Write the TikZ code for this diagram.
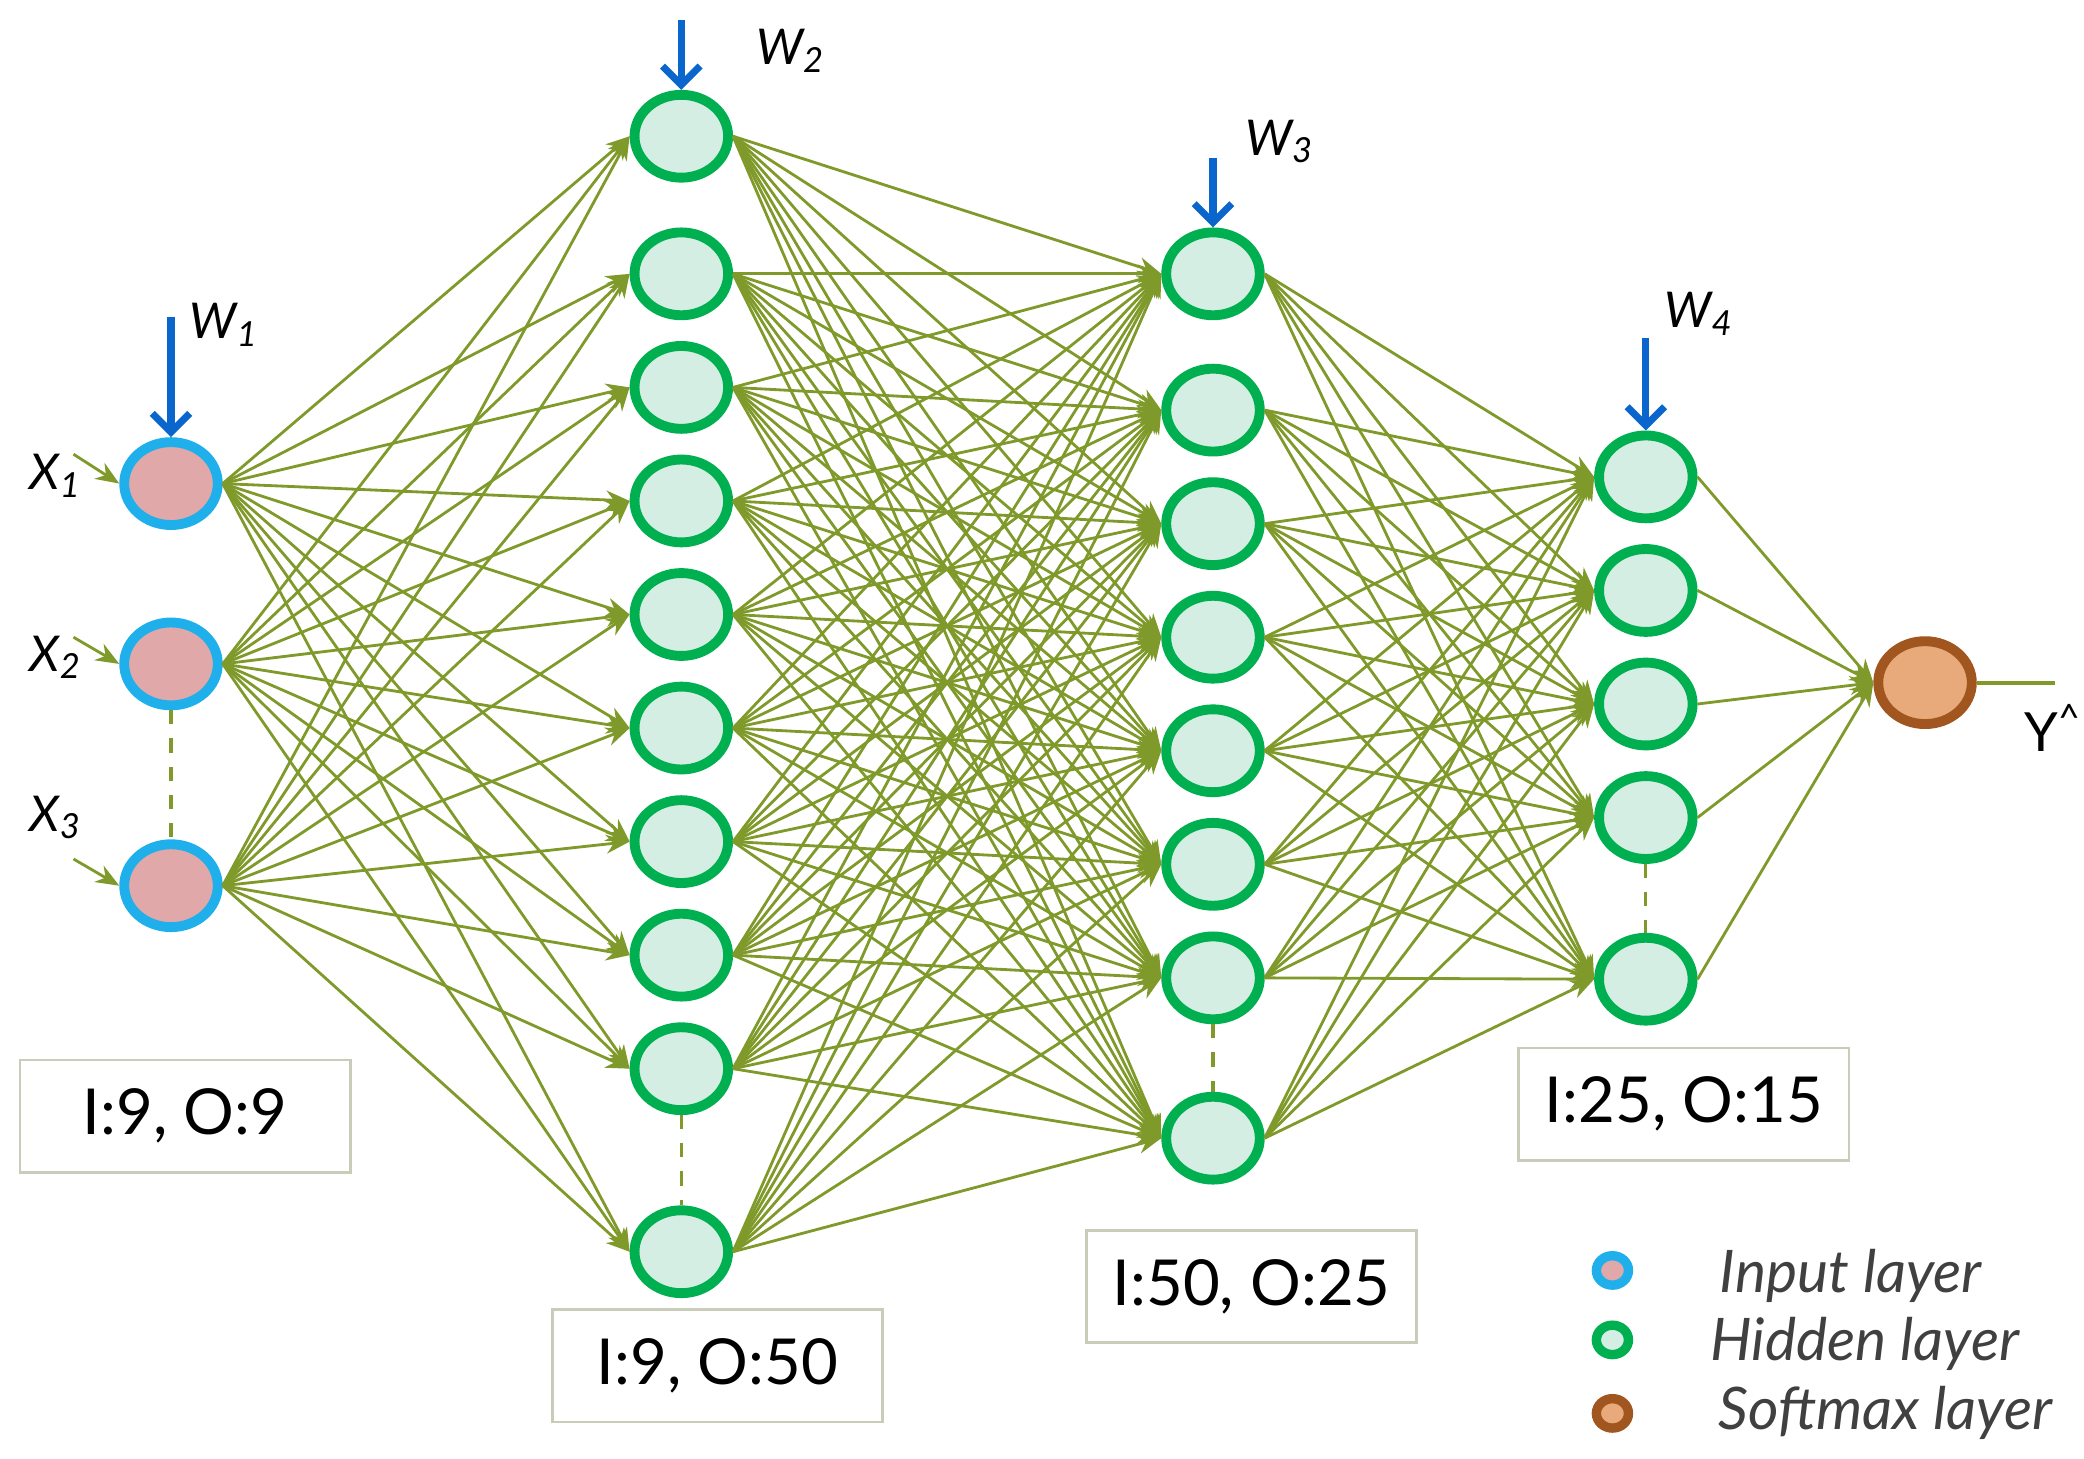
\documentclass[tikz,border=0pt]{standalone}
\usepackage{fontspec}
\setmainfont{Lato}
\usetikzlibrary{shapes.geometric,arrows.meta}
\definecolor{edge}{HTML}{7F9A2A}
\definecolor{hidfill}{HTML}{D5EEE3}
\definecolor{hidline}{HTML}{00B050}
\definecolor{infill}{HTML}{E0A8A8}
\definecolor{inline}{HTML}{1FB0EC}
\definecolor{outfill}{HTML}{E8AA7A}
\definecolor{outline}{HTML}{A0561E}
\definecolor{wblue}{HTML}{0A66CC}
\definecolor{boxline}{HTML}{C8CCB8}
\tikzset{
 neuron/.style={ellipse,minimum width=0.70cm,minimum height=0.62cm,line width=2.1pt,inner sep=0pt},
 inp/.style={neuron,draw=inline,fill=infill},
 hid/.style={neuron,draw=hidline,fill=hidfill},
 outn/.style={neuron,draw=outline,fill=outfill},
 conn/.style={draw=edge,line width=0.6pt,-{Stealth[length=5pt,width=4pt]}},
 dsh/.style={draw=edge,dashed,line width=0.7pt},
 wa/.style={draw=wblue,line width=1.5pt,-{Straight Barb[length=4pt,width=8pt]}},
 wl/.style={font=\itshape\fontsize{10.5}{13}\selectfont},
 xl/.style={font=\itshape\fontsize{10.5}{13}\selectfont},
 box/.style={draw=boxline,line width=0.6pt,minimum width=2.47cm,minimum height=0.84cm,font=\fontsize{13.5}{16}\selectfont},
 leg/.style={font=\itshape\fontsize{12.5}{15}\selectfont\color{black!75},anchor=west},
}
\begin{document}
\begin{tikzpicture}[x=0.01cm,y=-0.01cm]
\useasboundingbox (0,0) rectangle (1560,1092);
% layers
\foreach \y [count=\i] in {362,497,663} \node[inp] (a\i) at (128,\y) {};
\foreach \y [count=\i] in {102,205,290,375,460,545,630,715,800,937} \node[hid] (b\i) at (510,\y) {};
\foreach \y [count=\i] in {205,307,392,477,562,647,732,852} \node[hid] (c\i) at (908,\y) {};
\foreach \y [count=\i] in {357,442,527,612,733} \node[hid] (d\i) at (1232,\y) {};
\node[outn] (o) at (1441,511) {};
% connections
\foreach \i in {1,...,3}\foreach \j in {1,...,10} \draw[conn] (a\i.east) -- (b\j.west);
\foreach \i in {1,...,10}\foreach \j in {1,...,8} \draw[conn] (b\i.east) -- (c\j.west);
\foreach \i in {1,...,8}\foreach \j in {1,...,5} \draw[conn] (c\i.east) -- (d\j.west);
\foreach \i in {1,...,5} \draw[conn] (d\i.east) -- (o.west);
% dashed
\draw[dsh] (a2.south) -- (a3.north);
\draw[dsh] (b9.south) -- (b10.north);
\draw[dsh] (c7.south) -- (c8.north);
\draw[dsh] (d4.south) -- (d5.north);
% inputs
\coordinate (x1s) at (55,340); \coordinate (x2s) at (55,477); \coordinate (x3s) at (55,643);
\draw[conn] (x1s) -- (a1.west); \draw[conn] (x2s) -- (a2.west); \draw[conn] (x3s) -- (a3.west);
\node[xl] (x1) at (42,356) {X\textsubscript{1}};
\node[xl] (x2) at (42,492) {X\textsubscript{2}};
\node[xl] (x3) at (42,612) {X\textsubscript{3}};
% output
\coordinate (ye) at (1538,511);
\draw[draw=edge,line width=0.8pt] (o.east) -- (ye);
\node[font=\fontsize{11.5}{14}\selectfont] (yl) at (1537,545) {Y\textsuperscript{\^{}}};
% weights
\coordinate (w1s) at (128,237); \coordinate (w2s) at (510,15); \coordinate (w3s) at (908,118); \coordinate (w4s) at (1232,253);
\draw[wa] (w1s) -- (a1.north);
\draw[wa] (w2s) -- (b1.north);
\draw[wa] (w3s) -- (c1.north);
\draw[wa] (w4s) -- (d1.north);
\node[wl] (w1) at (168,243) {W\textsubscript{1}};
\node[wl] (w2) at (592,38) {W\textsubscript{2}};
\node[wl] (w3) at (958,106) {W\textsubscript{3}};
\node[wl] (w4) at (1272,235) {W\textsubscript{4}};
% boxes
\node[box] (bx1) at (138.5,835.5) {I:9, O:9};
\node[box] (bx2) at (537,1022.5) {I:9, O:50};
\node[box] (bx3) at (937,963) {I:50, O:25};
\node[box] (bx4) at (1260.5,826.5) {I:25, O:15};
% legend
\node[ellipse,minimum width=0.24cm,minimum height=0.22cm,inner sep=0pt,line width=2pt,draw=inline,fill=infill] (l1) at (1207,951) {};
\node[ellipse,minimum width=0.24cm,minimum height=0.22cm,inner sep=0pt,line width=2pt,draw=hidline,fill=hidfill] (l2) at (1207,1003) {};
\node[ellipse,minimum width=0.24cm,minimum height=0.22cm,inner sep=0pt,line width=2pt,draw=outline,fill=outfill] (l3) at (1207,1058) {};
\node[leg] (t1) at (1275,955) {Input layer};
\node[leg] (t2) at (1268,1006) {Hidden layer};
\node[leg] (t3) at (1274,1058) {Softmax layer};
\end{tikzpicture}
\end{document}
